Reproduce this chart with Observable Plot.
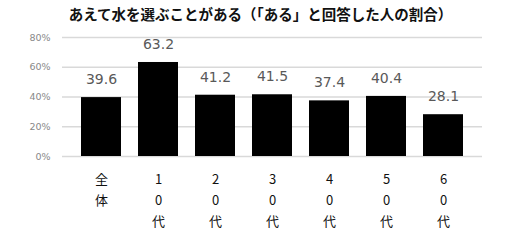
<!DOCTYPE html>
<html><head><meta charset="utf-8">
<script src="https://cdn.jsdelivr.net/npm/d3@7"></script>
<script src="https://cdn.jsdelivr.net/npm/@observablehq/plot@0.6"></script>
<style>
body{margin:0;background:#fff;}
#title{height:28px;line-height:28px;text-align:center;font-family:"Noto Sans CJK JP";font-weight:bold;font-size:14.5px;color:#111;padding-left:16px;}
svg{font-family:"DejaVu Sans","Noto Sans CJK JP";}
</style></head>
<body>
<div id="title">あえて水を選ぶことがある（「ある」と回答した人の割合）</div>
<div id="chart"></div>
<script>
const categories = ["全体","10代","20代","30代","40代","50代","60代"];
const tickLabels = ["全\n体","1\n0\n代","2\n0\n代","3\n0\n代","4\n0\n代","5\n0\n代","6\n0\n代"];
const values = [39.6,63.2,41.2,41.5,37.4,40.4,28.1];
const yTicks = [0,20,40,60,80];
const data = categories.map((c,i)=>({c, v: values[i]}));
const labelMap = new Map(categories.map((c,i)=>[c,tickLabels[i]]));
const chart = Plot.plot({
  width: 505, height: 222,
  marginTop: 9, marginBottom: 94, marginLeft: 62, marginRight: 23,
  x: {domain: categories, padding: 0.3, label: null},
  y: {domain: [0,80], label: null},
  marks: [
    Plot.gridY(yTicks, {stroke: "#d9d9d9", strokeOpacity: 1, strokeWidth: 1.5}),
    Plot.axisY(yTicks, {tickSize: 0, tickPadding: 12, tickFormat: d => d + "%", fill: "#888", fontSize: 9.5}),
    Plot.barY(data, {x: "c", y: "v", fill: "#000"}),
    Plot.text(data, {x: "c", y: "v", text: d => d.v.toFixed(1), dy: -18, fill: "#595959", fontSize: 14}),
    Plot.axisX({tickSize: 0, tickPadding: 13, tickFormat: d => labelMap.get(d), fontSize: 13, lineHeight: 1.6, fill: "#111", fontFamily: "Noto Sans CJK JP", textAnchor: "middle"})
  ]
});
document.getElementById("chart").append(chart);
</script>
</body></html>
